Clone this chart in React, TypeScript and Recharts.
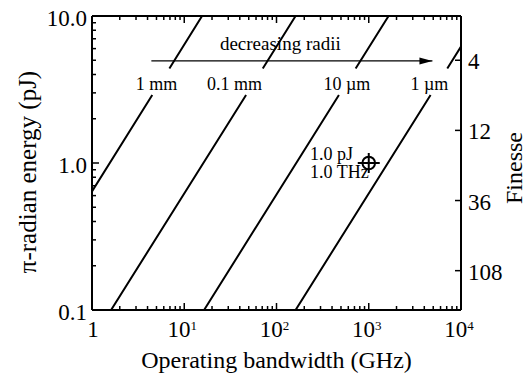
import React from "react";
import { ComposedChart, Line, Scatter, XAxis, YAxis } from "recharts";

const FONT = "'Liberation Serif', 'Times New Roman', Times, serif";

// ---- data ----
// x: operating bandwidth (GHz), y: pi-radian energy (pJ)
const radii = ["1 mm", "0.1 mm", "10 µm", "1 µm"];
const line1mm: [number, number][] = [[1, 0.64], [4.5, 2.9], [6.9, 4.4], [15.6, 10]];
const line100um: [number, number][] = [[1.61, 0.1], [46.8, 2.9], [71, 4.4], [161, 10]];
const line10um: [number, number][] = [[16.4, 0.1], [475, 2.9], [721, 4.4], [1640, 10]];
const line1um: [number, number][] = [[161, 0.1], [4680, 2.9], [7100, 4.4], [10000, 6.2]];
const radiusLines = [line1mm, line100um, line10um, line1um];

const radiusLabelBandwidth = [5.0, 35, 580, 4550];
const radiusLabelEnergy = [3.45, 3.45, 3.45, 3.45];

const arrowBandwidth = [4.4, 4900];
const arrowEnergy = 4.95;
const arrowText = "decreasing radii";
const arrowTextBandwidth = 110;
const arrowTextEnergy = 6.5;

const designBandwidth = 1000;
const designEnergy = 1.0;
const designLabels = ["1.0 pJ", "1.0 THz"];
const designLabelBandwidth = 231;
const designLabelEnergy = [1.16, 0.87];

const xDomain = [1, 10000];
const yDomain = [0.1, 10];
const finesseDomain = [2, 200];
const finesseTicks = [4, 12, 36, 108];

const xDecades = [1, 10, 100, 1000];
const yDecades = [0.1, 1];
const multipliers = [1, 2, 3, 4, 5, 6, 7, 8, 9];
const xTicks = [...xDecades.flatMap((d) => multipliers.map((m) => m * d)), 10000];
const yTicks = [...yDecades.flatMap((d) => multipliers.map((m) => +(m * d).toFixed(2))), 10];

// ---- series built from the arrays ----
const toSeries = (pts: [number, number][]) => [
  { x: pts[0][0], y: pts[0][1] },
  { x: pts[1][0], y: pts[1][1] },
  { x: Math.sqrt(pts[1][0] * pts[2][0]), y: null },
  { x: pts[2][0], y: pts[2][1] },
  { x: pts[3][0], y: pts[3][1] },
];
const radiusSeries = radiusLines.map(toSeries);
const radiusLabelPoints = radii.map((r, i) => ({ x: radiusLabelBandwidth[i], y: radiusLabelEnergy[i], label: r }));
const arrowData = arrowBandwidth.map((x) => ({ x, y: arrowEnergy }));
const arrowTextPoints = [{ x: arrowTextBandwidth, y: arrowTextEnergy, label: arrowText }];
const designPoints = [{ x: designBandwidth, y: designEnergy }];
const designLabelPoints = designLabels.map((l, i) => ({ x: designLabelBandwidth, y: designLabelEnergy[i], label: l }));

const isMajor = (v: number) => {
  const l = Math.log10(v);
  return Math.abs(l - Math.round(l)) < 1e-6;
};

const BottomTick = (props: any) => {
  const { x, y, payload } = props;
  const v = payload.value;
  const major = isMajor(v);
  const exp = Math.round(Math.log10(v));
  return (
    <g>
      <line x1={x} x2={x} y1={y} y2={y - (major ? 7 : 4)} stroke="#000" strokeWidth={1.5} />
      {major &&
        (exp === 0 ? (
          <text x={x + 1} y={y + 27} textAnchor="middle" fontSize={23} fontFamily={FONT} fill="#000">
            1
          </text>
        ) : (
          <text x={x - 2} y={y + 27} textAnchor="middle" fontSize={23} fontFamily={FONT} fill="#000">
            <tspan>10</tspan>
            <tspan dy={-7} fontSize={13}>
              {exp}
            </tspan>
          </text>
        ))}
    </g>
  );
};

const TopTick = (props: any) => {
  const { x, y, payload } = props;
  const major = isMajor(payload.value);
  return <line x1={x} x2={x} y1={y} y2={y + (major ? 7 : 4)} stroke="#000" strokeWidth={1.5} />;
};

const LeftTick = (props: any) => {
  const { x, y, payload } = props;
  const v = payload.value;
  const major = isMajor(v);
  return (
    <g>
      <line x1={x} x2={x + (major ? 7 : 4)} y1={y} y2={y} stroke="#000" strokeWidth={1.5} />
      {major && (
        <text x={x - 5} y={y + 9.5} textAnchor="end" fontSize={23} fontFamily={FONT} fill="#000">
          {v.toFixed(1)}
        </text>
      )}
    </g>
  );
};

const RightTick = (props: any) => {
  const { x, y, payload } = props;
  return (
    <g>
      <line x1={x} x2={x - 6} y1={y} y2={y} stroke="#000" strokeWidth={1.5} />
      <text x={x + 7} y={y + 9} textAnchor="start" fontSize={23} fontFamily={FONT} fill="#000">
        {payload.value}
      </text>
    </g>
  );
};

const leftTitle = (props: any) => {
  const vb = props.viewBox || { x: 0, y: 16, width: 92, height: 294 };
  const cx = vb.x + 27;
  const cy = vb.y + vb.height / 2 + 9;
  return (
    <text
      x={cx}
      y={cy}
      transform={`rotate(-90, ${cx}, ${cy})`}
      textAnchor="middle"
      dominantBaseline="central"
      fontSize={25}
      fontFamily={FONT}
      fill="#000"
    >
      π-radian energy (pJ)
    </text>
  );
};

const rightTitle = (props: any) => {
  const vb = props.viewBox || { x: 461, y: 16, width: 66, height: 294 };
  const cx = vb.x + 53;
  const cy = vb.y + vb.height / 2 + 5;
  return (
    <text
      x={cx}
      y={cy}
      transform={`rotate(-90, ${cx}, ${cy})`}
      textAnchor="middle"
      dominantBaseline="central"
      fontSize={24}
      fontFamily={FONT}
      fill="#000"
    >
      Finesse
    </text>
  );
};

const bottomTitle = (props: any) => {
  const vb = props.viewBox || { x: 92, y: 310, width: 369, height: 63 };
  return (
    <text x={vb.x + vb.width / 2} y={vb.y + 58} textAnchor="middle" fontSize={24} fontFamily={FONT} fill="#000">
      Operating bandwidth (GHz)
    </text>
  );
};

const CenterLabel = (fontSize: number) => (p: any) =>
  (
    <text x={p.cx} y={p.cy} textAnchor="middle" dominantBaseline="central" fontSize={fontSize} fontFamily={FONT} fill="#000">
      {p.payload.label}
    </text>
  );

const StartLabel = (p: any) => (
  <text x={p.cx} y={p.cy} textAnchor="start" dominantBaseline="central" fontSize={18} fontFamily={FONT} fill="#000">
    {p.payload.label}
  </text>
);

const Crosshair = (p: any) => (
  <g>
    <circle cx={p.cx} cy={p.cy} r={6.3} fill="none" stroke="#000" strokeWidth={2} />
    <line x1={p.cx - 11} x2={p.cx + 11} y1={p.cy} y2={p.cy} stroke="#000" strokeWidth={2} />
    <line x1={p.cx} x2={p.cx} y1={p.cy - 10} y2={p.cy + 10} stroke="#000" strokeWidth={2} />
  </g>
);

const ArrowHead = (p: any) =>
  p.index === arrowData.length - 1 ? (
    <polygon
      key={`ah-${p.index}`}
      points={`${p.cx},${p.cy} ${p.cx - 13},${p.cy - 3.5} ${p.cx - 13},${p.cy + 3.5}`}
      fill="#000"
    />
  ) : (
    <g key={`ah-${p.index}`} />
  );

const axisLine = { stroke: "#000", strokeWidth: 2 };

export default function App() {
  return (
    <div style={{ position: "absolute", left: 0, top: 0, width: 527, height: 373, background: "#fff" }}>
      <ComposedChart width={527} height={373} margin={{ top: 0, right: 0, bottom: 0, left: 0 }}>
        <XAxis
          xAxisId="bottom"
          dataKey="x"
          type="number"
          scale="log"
          domain={xDomain}
          allowDataOverflow
          ticks={xTicks}
          interval={0}
          tickSize={0}
          tickMargin={0}
          tickLine={false}
          axisLine={axisLine}
          tick={BottomTick}
          height={63}
          label={bottomTitle}
        />
        <XAxis
          xAxisId="top"
          orientation="top"
          dataKey="x"
          type="number"
          scale="log"
          domain={xDomain}
          allowDataOverflow
          ticks={xTicks}
          interval={0}
          tickSize={0}
          tickMargin={0}
          tickLine={false}
          axisLine={axisLine}
          tick={TopTick}
          height={16}
        />
        <YAxis
          yAxisId="left"
          dataKey="y"
          type="number"
          scale="log"
          domain={yDomain}
          allowDataOverflow
          ticks={yTicks}
          interval={0}
          tickSize={0}
          tickMargin={0}
          tickLine={false}
          axisLine={axisLine}
          tick={LeftTick}
          width={92}
          label={leftTitle}
        />
        <YAxis
          yAxisId="right"
          orientation="right"
          type="number"
          scale="log"
          domain={finesseDomain}
          reversed
          allowDataOverflow
          ticks={finesseTicks}
          interval={0}
          tickSize={0}
          tickMargin={0}
          tickLine={false}
          axisLine={axisLine}
          tick={RightTick}
          width={66}
          label={rightTitle}
        />
        {radiusSeries.map((d, i) => (
          <Line
            key={radii[i]}
            xAxisId="bottom"
            yAxisId="left"
            data={d}
            dataKey="y"
            stroke="#000"
            strokeWidth={2}
            dot={false}
            activeDot={false}
            connectNulls={false}
            isAnimationActive={false}
          />
        ))}
        <Line
          xAxisId="bottom"
          yAxisId="left"
          data={arrowData}
          dataKey="y"
          stroke="#000"
          strokeWidth={1.3}
          dot={ArrowHead}
          activeDot={false}
          isAnimationActive={false}
        />
        <Scatter xAxisId="bottom" yAxisId="left" data={radiusLabelPoints} shape={CenterLabel(18)} isAnimationActive={false} />
        <Scatter xAxisId="bottom" yAxisId="left" data={arrowTextPoints} shape={CenterLabel(19)} isAnimationActive={false} />
        <Scatter xAxisId="bottom" yAxisId="left" data={designLabelPoints} shape={StartLabel} isAnimationActive={false} />
        <Scatter xAxisId="bottom" yAxisId="left" data={designPoints} shape={Crosshair} isAnimationActive={false} />
      </ComposedChart>
    </div>
  );
}
